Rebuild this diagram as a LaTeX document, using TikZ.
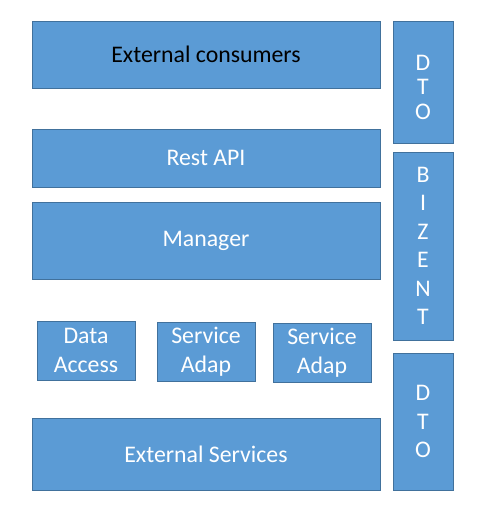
\documentclass[tikz,border=0pt]{standalone}
\usepackage{fontspec}
\setmainfont{Carlito}
\definecolor{boxfill}{HTML}{5B9BD5}
\definecolor{boxline}{HTML}{41719C}
\begin{document}
\begin{tikzpicture}[x=1pt,y=-1pt,
  layer/.style={draw=boxline, fill=boxfill, line width=0.9pt, inner sep=0pt, outer sep=0pt,
    text=white, font=\fontsize{23.8}{28.5}\selectfont, align=center},
  lbl/.style={text=white, font=\fontsize{23.8}{28.5}\selectfont, align=center, inner sep=0pt}]
\useasboundingbox[fill=white] (0,0) rectangle (483,513);
\node[layer, text=black, minimum width=348pt, minimum height=67pt] (consumers) at (206,54.5) {External consumers};
\node[layer, minimum width=348pt, minimum height=58pt] (rest) at (206,158) {Rest API};
\node[layer, minimum width=348pt, minimum height=77pt] (manager) at (206,240.5) {Manager};
\node[layer, minimum width=98pt, minimum height=59pt] (data) at (86,350.5) {Data\\Access};
\node[layer, minimum width=98pt, minimum height=59pt] (adap1) at (206,351.5) {Service\\Adap};
\node[layer, minimum width=98pt, minimum height=59pt] (adap2) at (322,352.5) {Service\\Adap};
\node[layer, minimum width=348pt, minimum height=72pt] (extsvc) at (206,454) {External Services};
\node[layer, minimum width=60pt, minimum height=122pt,
  label={[lbl, yshift=-5pt, font=\fontsize{23.8}{24.5}\selectfont]center:{D\\T\\O}}] (dto1) at (423,82) {};
\node[layer, minimum width=60pt, minimum height=188pt,
  label={[lbl]center:{B\\I\\Z\\E\\N\\T}}] (bizent) at (423,246) {};
\node[layer, minimum width=60pt, minimum height=137pt] (dto2) at (423,421.5) {D\\T\\O};
\end{tikzpicture}
\end{document}
